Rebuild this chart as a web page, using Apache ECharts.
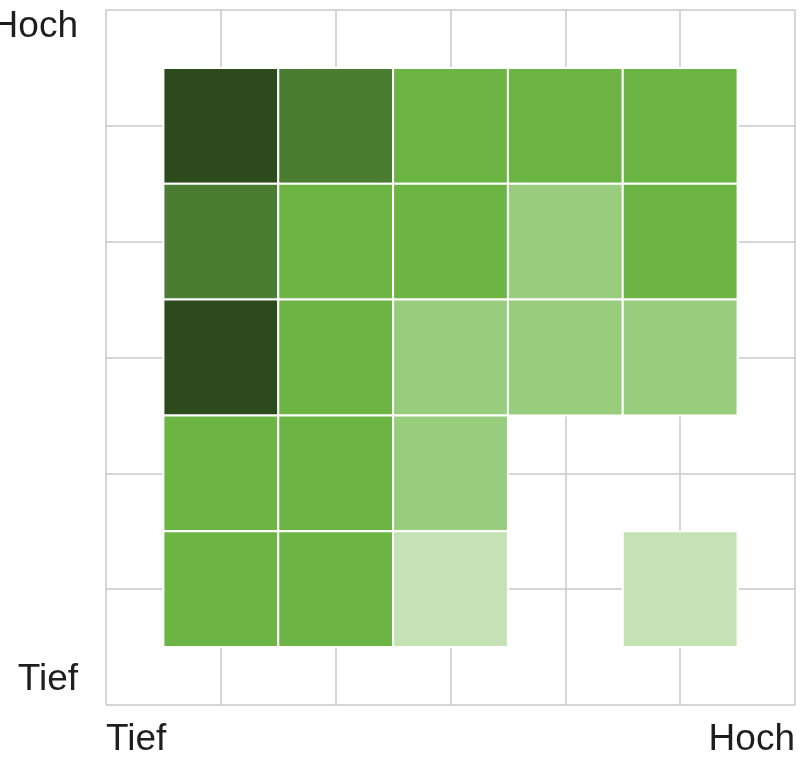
<!DOCTYPE html>
<html>
<head>
<meta charset="utf-8">
<script src="https://cdn.jsdelivr.net/npm/echarts@6/dist/echarts.min.js"></script>
<style>html,body{margin:0;padding:0;background:#fff;}#chart{width:800px;height:757px;}</style>
</head>
<body>
<div id="chart"></div>
<script>
// Column positions (low -> high) and row positions (top -> bottom)
const xPositions = [1, 2, 3, 4, 5];
const yPositions = [5, 4, 3, 2, 1];
// Intensity level per cell (1 = lightest ... 5 = darkest), null = empty
const levelsByRow = [
  [5, 4, 3, 3, 3],
  [4, 3, 3, 2, 3],
  [5, 3, 2, 2, 2],
  [3, 3, 2, null, null],
  [3, 3, 1, null, 1]
];
const xLabels = ['Tief', 'Hoch'];
const yLabels = ['Tief', 'Hoch'];
const levelColors = ['#c5e2b4', '#99cd7e', '#6cb444', '#4a7d31', '#2c4a1c'];

const data = [];
yPositions.forEach(function (y, r) {
  xPositions.forEach(function (x, c) {
    const v = levelsByRow[r][c];
    if (v != null) data.push([x, y, v]);
  });
});

const chart = echarts.init(document.getElementById('chart'));
const fontFamily = 'Liberation Sans, Arial, sans-serif';
chart.setOption({
  animation: false,
  grid: { left: 106, right: 5, top: 10, bottom: 52, containLabel: false, outerBoundsMode: 'none' },
  xAxis: {
    type: 'value', min: 0, max: 6, interval: 1,
    axisLine: { show: false }, axisTick: { show: false },
    splitLine: { show: true, lineStyle: { color: '#c8c8c8', width: 1.5 } },
    axisLabel: {
      margin: 16, fontSize: 37, color: '#1e1e1e', fontFamily: fontFamily,
      showMinLabel: true, showMaxLabel: true,
      alignMinLabel: 'left', alignMaxLabel: 'right',
      formatter: function (v) { return v === 0 ? xLabels[0] : (v === 6 ? xLabels[1] : ''); }
    }
  },
  yAxis: {
    type: 'value', min: 0, max: 6, interval: 1,
    axisLine: { show: false }, axisTick: { show: false },
    splitLine: { show: true, lineStyle: { color: '#c8c8c8', width: 1.5 } },
    axisLabel: {
      margin: 28, fontSize: 37, color: '#1e1e1e', fontFamily: fontFamily,
      showMinLabel: true, showMaxLabel: true,
      verticalAlignMinLabel: 'bottom', verticalAlignMaxLabel: 'top',
      formatter: function (v) { return v === 0 ? '{lo|' + yLabels[0] + '}' : (v === 6 ? '{hi|' + yLabels[1] + '}' : ''); },
      rich: {
        lo: { fontSize: 37, color: '#1e1e1e', fontFamily: fontFamily, padding: [0, 0, 7, 0] },
        hi: { fontSize: 37, color: '#1e1e1e', fontFamily: fontFamily, lineHeight: 33 }
      }
    }
  },
  visualMap: {
    show: false, type: 'piecewise', dimension: 2, seriesIndex: 0,
    pieces: levelColors.map(function (c, i) { return { value: i + 1, color: c }; })
  },
  series: [{
    type: 'custom',
    data: data,
    encode: { x: 0, y: 1 },
    renderItem: function (params, api) {
      const x = api.value(0), y = api.value(1);
      const p1 = api.coord([x - 0.5, y + 0.5]);
      const p2 = api.coord([x + 0.5, y - 0.5]);
      return {
        type: 'rect',
        shape: { x: p1[0], y: p1[1], width: p2[0] - p1[0], height: p2[1] - p1[1] },
        style: { fill: api.visual('color'), stroke: '#ffffff', lineWidth: 2 }
      };
    }
  }]
});
</script>
</body>
</html>
